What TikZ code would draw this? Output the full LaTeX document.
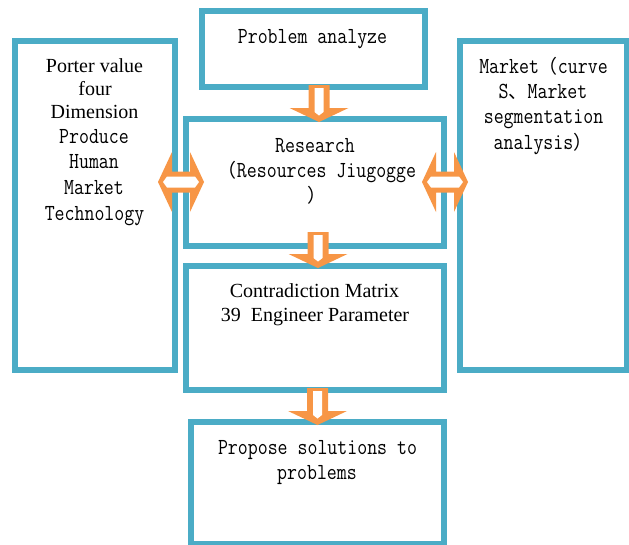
\documentclass[tikz,border=0pt]{standalone}
\usepackage{fontspec}
\setmainfont{Liberation Serif}
\newfontfamily\monof[FakeStretch=0.84]{Latin Modern Mono}
\newfontfamily\cjkf{Noto Sans CJK SC}
\newcommand\fwc[1]{{\cjkf\fontsize{19}{25}\selectfont #1}}
\usetikzlibrary{calc}
\definecolor{bl}{HTML}{4BACC6}
\definecolor{org}{HTML}{F79646}
\tikzset{
  box/.style={rectangle, draw=bl, line width=6pt, fill=white, inner sep=0pt, outer sep=0pt},
  mt/.style={font=\monof\fontsize{23}{25}\selectfont, anchor=base, inner sep=0pt},
  st/.style={font=\fontsize{20}{23}\selectfont, anchor=base, inner sep=0pt},
}
% vertical block arrow: #1 top centre, #2 tip
\newcommand\vblk[2]{%
  \fill[org] let \p1=(#1), \p2=(#2) in
    (\x1-10.5pt,\y1) -- (\x1-10.5pt,\y2+14pt) -- (\x1-29.5pt,\y2+14pt) -- (\x1,\y2)
      -- (\x1+29.5pt,\y2+14pt) -- (\x1+10.5pt,\y2+14pt) -- (\x1+10.5pt,\y1) -- cycle;
  \fill[white] let \p1=(#1), \p2=(#2) in
    (\x1-4.5pt,\y1-3pt) -- (\x1-4.5pt,\y2+10pt) -- (\x1,\y2+6.5pt)
      -- (\x1+4.5pt,\y2+10pt) -- (\x1+4.5pt,\y1-3pt) -- cycle;}
% horizontal double block arrow: #1 left tip, #2 right tip
\newcommand\hdbl[2]{%
  \fill[org] let \p1=(#1), \p2=(#2) in
    (\x1,\y1) -- (\x1+14pt,\y1+30pt) -- (\x1+14pt,\y1+10.5pt) -- (\x2-14pt,\y1+10.5pt)
      -- (\x2-14pt,\y1+30pt) -- (\x2,\y1) -- (\x2-14pt,\y1-30pt) -- (\x2-14pt,\y1-10.5pt)
      -- (\x1+14pt,\y1-10.5pt) -- (\x1+14pt,\y1-30pt) -- cycle;
  \fill[white] let \p1=(#1), \p2=(#2) in
    (\x1+5pt,\y1) -- (\x1+9pt,\y1+5.5pt) -- (\x2-9pt,\y1+5.5pt) -- (\x2-5pt,\y1)
      -- (\x2-9pt,\y1-5.5pt) -- (\x1+9pt,\y1-5.5pt) -- cycle;}
\begin{document}
\begin{tikzpicture}[x=1pt,y=-1pt]
\useasboundingbox (0,0) rectangle (629,544);
% boxes
\node[box, minimum width=223pt, minimum height=76pt] (prob) at (313.5,49) {};
\node[box, minimum width=159.5pt, minimum height=329pt] (left) at (94.75,205) {};
\node[box, minimum width=258pt, minimum height=127pt] (res) at (315,182.5) {};
\node[box, minimum width=166.5pt, minimum height=329pt] (right) at (543.25,205) {};
\node[box, minimum width=258pt, minimum height=124pt] (con) at (315,328) {};
\node[box, minimum width=253pt, minimum height=122pt] (prop) at (317.5,483) {};
% texts
\node[mt] (t1) at (312.5,43) {Problem analyze};
\node[st] (l1) at (94.5,72) {Porter value};
\node[st] (l2) at (95,95) {four};
\node[st] (l3) at (94.5,118) {Dimension};
\node[mt] (l4) at (94,143) {Produce};
\node[mt] (l5) at (94,168) {Human};
\node[mt] (l6) at (94,194) {Market};
\node[mt] (l7) at (94.5,220) {Technology};
\node[mt] (r1) at (315,152) {Research};
\node[mt] (r2) at (317,177) {\fwc{（}Resources Jiugogge};
\node[mt] (r3) at (317,202) {\fwc{）}};
\node[mt] (m1) at (543.5,73) {Market\fwc{（}curve};
\node[mt] (m2) at (543,98) {S\fwc{、}Market};
\node[mt] (m3) at (543.5,123) {segmentation};
\node[mt] (m4) at (543,149) {analysis\fwc{）}};
\node[st] (c1) at (314.5,297) {Contradiction Matrix};
\node[st] (c2) at (315,321) {39\ \ Engineer Parameter};
\node[mt] (p1) at (317.5,454) {Propose solutions to};
\node[mt] (p2) at (317,479) {problems};
% arrows
\coordinate (a1s) at (319,85);  \coordinate (a1e) at (319,122);
\coordinate (a2s) at (318,232); \coordinate (a2e) at (318,268);
\coordinate (a3s) at (317.5,388); \coordinate (a3e) at (317.5,425);
\vblk{a1s}{a1e}
\vblk{a2s}{a2e}
\vblk{a3s}{a3e}
\coordinate (h1a) at (158,182); \coordinate (h1b) at (204,182);
\coordinate (h2a) at (422,182); \coordinate (h2b) at (468,182);
\hdbl{h1a}{h1b}
\hdbl{h2a}{h2b}
\end{tikzpicture}
\end{document}
